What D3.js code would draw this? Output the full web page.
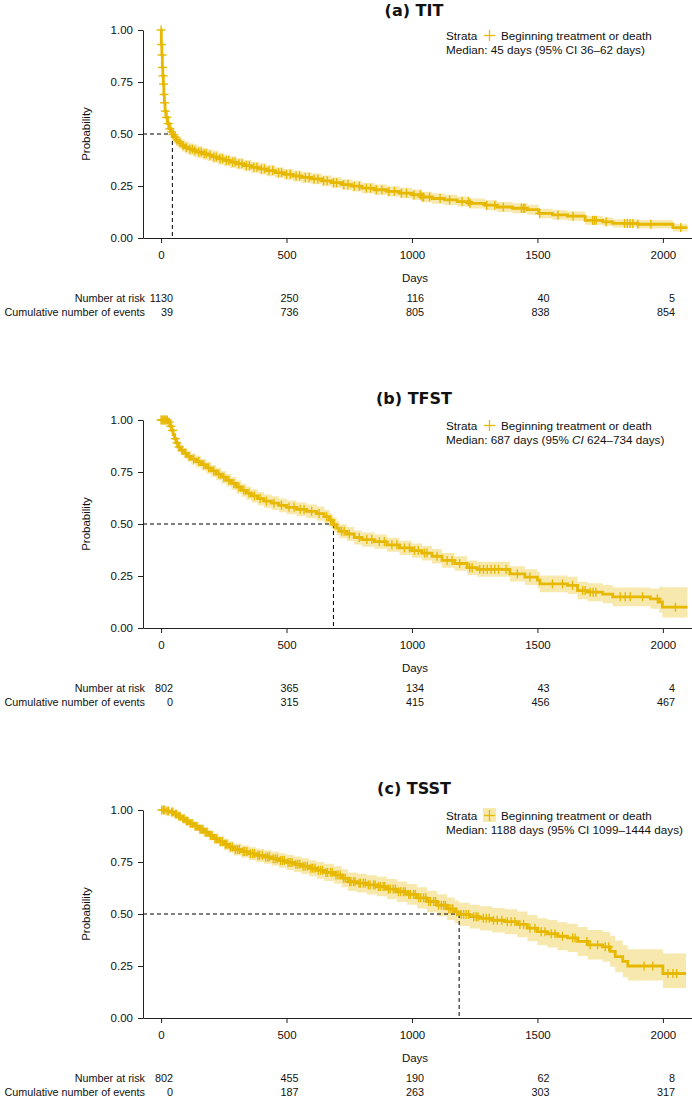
<!DOCTYPE html>
<html><head><meta charset="utf-8">
<script src="https://cdn.jsdelivr.net/npm/d3@7"></script>
<style>body{margin:0;background:#fff}svg{display:block}</style>
</head><body>
<svg id="chart" width="692" height="1096"></svg>
<script>
// ---------- data ----------
const panelTitles = ["(a) TIT", "(b) TFST", "(c) TSST"];
const strataLabel = "Beginning treatment or death";
const medianDays = [45, 687, 1188];
const medianCILow = [36, 624, 1099];
const medianCIHigh = [62, 734, 1444];
const italicCI = [false, true, false];
const xTicks = [0, 500, 1000, 1500, 2000];
const yTicks = [0, 0.25, 0.5, 0.75, 1];
const riskTimes = [0, 500, 1000, 1500, 2000];
const riskRowLabels = ["Number at risk", "Cumulative number of events"];
const lastFollowUp = [2098, 2098, 2092];

const aTimes = [0,1,3,5,7,9,11,13,16,20,26,33,40,45,52,60,70,82,95,110,128,145,165,185,205,228,250,275,300,330,360,390,420,455,490,525,560,600,640,680,720,760,800,850,900,950,1000,1040,1080,1130,1180,1230,1290,1340,1400,1460,1505,1560,1620,1690,1760,1800,1900,2040];
const aSurv = [1.00,0.93,0.88,0.82,0.78,0.74,0.69,0.65,0.61,0.58,0.55,0.525,0.51,0.497,0.485,0.47,0.458,0.445,0.435,0.427,0.42,0.413,0.405,0.398,0.39,0.381,0.373,0.365,0.357,0.348,0.34,0.332,0.324,0.314,0.306,0.298,0.291,0.284,0.275,0.266,0.257,0.249,0.24,0.232,0.224,0.216,0.208,0.197,0.19,0.183,0.175,0.166,0.158,0.149,0.143,0.136,0.118,0.111,0.105,0.085,0.078,0.07,0.066,0.05];
const aLower = [1.00,0.915,0.861,0.798,0.756,0.714,0.662,0.621,0.58,0.55,0.52,0.495,0.48,0.467,0.455,0.44,0.429,0.416,0.406,0.398,0.391,0.384,0.376,0.369,0.361,0.352,0.345,0.337,0.33,0.321,0.313,0.305,0.297,0.288,0.28,0.272,0.265,0.258,0.249,0.24,0.231,0.223,0.215,0.207,0.199,0.191,0.183,0.172,0.165,0.158,0.151,0.142,0.134,0.125,0.119,0.112,0.095,0.088,0.083,0.064,0.058,0.05,0.046,0.031];
const aUpper = [1.00,0.945,0.899,0.842,0.804,0.766,0.718,0.679,0.64,0.61,0.58,0.555,0.54,0.527,0.515,0.5,0.487,0.474,0.464,0.456,0.449,0.442,0.434,0.427,0.419,0.41,0.401,0.393,0.384,0.375,0.367,0.359,0.351,0.34,0.332,0.324,0.317,0.31,0.301,0.292,0.283,0.275,0.265,0.257,0.249,0.241,0.233,0.222,0.215,0.208,0.199,0.19,0.182,0.173,0.167,0.16,0.141,0.134,0.127,0.106,0.098,0.09,0.086,0.069];
const aCensor = [0,2,4,6,8,10,12,14,17,22,28,35,42,48,56,64,75,88,100,115,125,135,150,160,172,180,195,210,220,235,245,260,270,285,295,310,322,340,352,370,382,400,412,430,445,468,480,500,515,538,552,575,590,610,625,648,662,688,700,728,745,770,790,818,835,858,880,908,930,958,978,1008,1033,1040,1046,1070,1112,1150,1200,1225,1231,1298,1330,1364,1436,1444,1450,1509,1582,1642,1720,1727,1734,1774,1847,1858,1869,1880,1900,1952,2071];
const aAtRisk = [1130, 250, 116, 40, 5];
const aEvents = [39, 736, 805, 838, 854];

const bTimes = [0,30,36,42,48,54,60,68,78,90,105,120,140,160,180,200,220,240,260,280,300,320,340,360,385,410,440,470,500,540,580,620,650,670,680,687,700,710,740,770,800,850,900,950,1000,1040,1080,1120,1170,1220,1260,1390,1450,1500,1510,1620,1660,1700,1760,1800,1950,1985,1998];
const bSurv = [1.0,0.99,0.97,0.95,0.93,0.91,0.89,0.87,0.855,0.84,0.825,0.812,0.8,0.785,0.77,0.755,0.74,0.725,0.71,0.695,0.678,0.662,0.648,0.635,0.622,0.61,0.6,0.59,0.58,0.57,0.561,0.55,0.535,0.52,0.51,0.497,0.48,0.465,0.452,0.435,0.425,0.415,0.4,0.385,0.372,0.36,0.345,0.325,0.31,0.29,0.282,0.26,0.245,0.23,0.212,0.205,0.18,0.172,0.163,0.15,0.14,0.125,0.10];
const bLower = [1.0,0.983,0.958,0.935,0.912,0.89,0.868,0.847,0.831,0.815,0.799,0.785,0.772,0.757,0.741,0.726,0.71,0.695,0.68,0.664,0.647,0.631,0.616,0.603,0.59,0.578,0.567,0.557,0.547,0.537,0.528,0.516,0.501,0.486,0.476,0.463,0.446,0.431,0.418,0.401,0.391,0.381,0.366,0.351,0.338,0.325,0.31,0.29,0.275,0.255,0.246,0.223,0.207,0.191,0.172,0.164,0.138,0.129,0.119,0.105,0.093,0.075,0.051];
const bUpper = [1.0,0.997,0.982,0.965,0.948,0.93,0.912,0.893,0.879,0.865,0.851,0.839,0.828,0.813,0.799,0.784,0.77,0.755,0.74,0.726,0.709,0.693,0.68,0.667,0.654,0.642,0.633,0.623,0.613,0.603,0.594,0.584,0.569,0.554,0.544,0.531,0.514,0.499,0.486,0.469,0.459,0.449,0.434,0.419,0.406,0.395,0.38,0.36,0.345,0.325,0.318,0.297,0.283,0.269,0.252,0.246,0.222,0.215,0.207,0.195,0.19,0.2,0.196];
const bCensor = [0,4,8,12,16,20,25,32,39,46,57,64,72,83,98,112,130,150,170,190,210,230,250,270,290,310,330,350,372,395,420,450,480,510,530,555,570,600,630,660,676,690,720,730,750,790,820,840,870,890,920,940,970,990,1010,1025,1050,1060,1100,1140,1160,1190,1230,1240,1270,1285,1300,1315,1330,1345,1375,1420,1470,1560,1600,1640,1680,1690,1710,1722,1733,1830,1850,1870,1919,1978,2050];
const bAtRisk = [802, 365, 134, 43, 4];
const bEvents = [0, 315, 415, 456, 467];

const cTimes = [0,20,35,50,65,80,95,110,130,150,170,190,210,230,250,270,290,320,350,380,410,440,470,500,530,560,590,620,650,690,720,745,780,820,860,900,940,980,1020,1060,1100,1140,1170,1188,1230,1270,1320,1370,1420,1460,1500,1540,1580,1620,1660,1700,1760,1790,1810,1840,1860,2000];
const cSurv = [1.0,0.995,0.99,0.98,0.97,0.958,0.947,0.935,0.922,0.908,0.893,0.878,0.862,0.848,0.835,0.822,0.81,0.8,0.79,0.782,0.774,0.766,0.757,0.748,0.739,0.73,0.72,0.71,0.7,0.688,0.672,0.655,0.648,0.64,0.632,0.62,0.607,0.594,0.578,0.56,0.542,0.525,0.51,0.498,0.487,0.479,0.47,0.463,0.45,0.432,0.415,0.405,0.393,0.385,0.368,0.352,0.342,0.32,0.295,0.272,0.25,0.214];
const cLower = [1.0,0.99,0.983,0.97,0.958,0.944,0.931,0.917,0.902,0.887,0.87,0.854,0.837,0.822,0.808,0.794,0.781,0.77,0.759,0.75,0.741,0.732,0.722,0.712,0.702,0.692,0.681,0.67,0.659,0.646,0.629,0.611,0.603,0.594,0.585,0.572,0.558,0.544,0.527,0.508,0.489,0.471,0.455,0.442,0.43,0.421,0.411,0.403,0.388,0.369,0.35,0.339,0.326,0.317,0.298,0.281,0.27,0.246,0.22,0.196,0.18,0.144];
const cUpper = [1.0,1.0,0.997,0.99,0.982,0.972,0.963,0.953,0.942,0.929,0.916,0.902,0.887,0.874,0.862,0.85,0.839,0.83,0.821,0.814,0.807,0.8,0.792,0.784,0.776,0.768,0.759,0.75,0.741,0.73,0.715,0.699,0.693,0.686,0.679,0.668,0.656,0.644,0.629,0.612,0.595,0.579,0.565,0.554,0.544,0.537,0.529,0.523,0.512,0.495,0.48,0.471,0.46,0.453,0.438,0.423,0.415,0.395,0.372,0.35,0.33,0.31];
const cCensor = [3,9,15,24,30,42,47,57,62,71,76,88,92,101,106,117,124,136,143,155,160,167,176,183,197,203,215,222,236,244,256,262,276,284,296,305,312,327,334,342,356,365,372,386,393,404,417,425,432,447,455,463,476,484,491,506,514,522,537,545,553,566,574,583,597,604,613,627,636,644,657,664,676,683,697,705,714,727,734,752,757,767,773,789,795,806,814,826,833,847,853,867,874,885,892,906,913,925,934,946,955,966,973,987,994,1006,1013,1027,1035,1046,1055,1067,1074,1086,1094,1106,1117,1126,1133,1147,1155,1163,1178,1196,1206,1216,1226,1246,1256,1263,1284,1296,1308,1325,1340,1358,1380,1395,1410,1430,1445,1470,1490,1515,1530,1555,1570,1600,1640,1650,1697,1710,1740,1770,1784,1925,1960,2020,2040,2055];
const cAtRisk = [802, 455, 190, 62, 8];
const cEvents = [0, 187, 263, 303, 317];

// ---------- style / layout ----------
const COLOR = "#E7B800";
const RIBBON = "#F7E8AE";
const FONT = "'Liberation Sans', Arial, sans-serif";
const panelOffsets = [0, 390, 780];
const titleBaseline = [16, 14, 14];
const plotTop = 30, plotBottom = 238;

const panels = [
  {times: aTimes, surv: aSurv, lo: aLower, hi: aUpper, cens: aCensor, risk: aAtRisk, ev: aEvents},
  {times: bTimes, surv: bSurv, lo: bLower, hi: bUpper, cens: bCensor, risk: bAtRisk, ev: bEvents},
  {times: cTimes, surv: cSurv, lo: cLower, hi: cUpper, cens: cCensor, risk: cAtRisk, ev: cEvents}
];

const svg = d3.select("#chart");
svg.append("rect").attr("width", 692).attr("height", 1096).attr("fill", "#fff");

const x = d3.scaleLinear().domain([-72, 2116]).range([143, 692]);
const y = d3.scaleLinear().domain([0, 1]).range([plotBottom, plotTop]);

panels.forEach((p, i) => {
  const g = svg.append("g").attr("transform", `translate(0,${panelOffsets[i]})`);
  const pts = p.times.map((t, k) => ({t, s: p.surv[k], lo: p.lo[k], hi: p.hi[k]}));
  const last = pts[pts.length - 1];
  pts.push({t: lastFollowUp[i], s: last.s, lo: last.lo, hi: last.hi});
  const survAt = t => {
    const idx = d3.bisectRight(p.times, t) - 1;
    return p.surv[Math.max(0, idx)];
  };

  // ribbon
  g.append("path").datum(pts)
    .attr("fill", RIBBON)
    .attr("d", d3.area().curve(d3.curveStepAfter)
      .x(d => x(d.t)).y0(d => y(d.lo)).y1(d => y(d.hi)));

  // median dashed lines
  const m = medianDays[i];
  g.append("line").attr("x1", x.range()[0]).attr("x2", x(m))
    .attr("y1", y(0.5)).attr("y2", y(0.5))
    .attr("stroke", "#000").attr("stroke-width", 1).attr("stroke-dasharray", "4,3");
  g.append("line").attr("x1", x(m)).attr("x2", x(m))
    .attr("y1", y(0.5)).attr("y2", y(0))
    .attr("stroke", "#000").attr("stroke-width", 1).attr("stroke-dasharray", "4,3");

  // KM curve
  g.append("path").datum(pts)
    .attr("fill", "none").attr("stroke", COLOR).attr("stroke-width", 2.8)
    .attr("d", d3.line().curve(d3.curveStepAfter).x(d => x(d.t)).y(d => y(d.s)));

  // censor marks
  const cg = g.append("g").attr("stroke", COLOR).attr("stroke-width", 1.4);
  p.cens.forEach(t => {
    const cx = x(t), cy = y(survAt(t));
    cg.append("line").attr("x1", cx - 4.5).attr("x2", cx + 4.5).attr("y1", cy).attr("y2", cy);
    cg.append("line").attr("x1", cx).attr("x2", cx).attr("y1", cy - 4.5).attr("y2", cy + 4.5);
  });

  // axes
  const yAxis = g.append("g").attr("transform", `translate(${x.range()[0]},0)`)
    .call(d3.axisLeft(y).tickValues(yTicks).tickFormat(d3.format(".2f")).tickSize(5).tickSizeOuter(0).tickPadding(5));
  const xAxis = g.append("g").attr("transform", `translate(0,${plotBottom})`)
    .call(d3.axisBottom(x).tickValues(xTicks).tickFormat(d3.format("d")).tickSize(5).tickSizeOuter(0).tickPadding(8));
  [yAxis, xAxis].forEach(a => {
    a.selectAll("path,line").attr("stroke", "#222").attr("stroke-width", 1);
    a.selectAll("text").attr("fill", "#111").style("font-family", FONT).style("font-size", "11.5px");
  });

  // axis titles
  g.append("text").attr("transform", `translate(90,${(plotTop + plotBottom) / 2}) rotate(-90)`)
    .attr("text-anchor", "middle").style("font-family", FONT).style("font-size", "11.5px").attr("fill", "#111")
    .text("Probability");
  g.append("text").attr("x", 415).attr("y", 282).attr("text-anchor", "middle")
    .style("font-family", FONT).style("font-size", "11.5px").attr("fill", "#111").text("Days");

  // title
  g.append("text").attr("x", 414).attr("y", titleBaseline[i]).attr("text-anchor", "middle")
    .style("font-family", "'DejaVu Sans', Verdana, sans-serif").style("font-weight", "bold").style("font-size", "16px")
    .attr("fill", "#111").text(panelTitles[i]);

  // legend
  const lg = g.append("g").style("font-family", FONT).style("font-size", "11.7px").attr("fill", "#111");
  lg.append("text").attr("x", 446).attr("y", 40).text("Strata");
  if (i === 2) {
    lg.append("rect").attr("x", 483).attr("y", 28).attr("width", 13).attr("height", 14).attr("fill", RIBBON);
  }
  lg.append("line").attr("x1", 484).attr("x2", 495).attr("y1", 35.5).attr("y2", 35.5).attr("stroke", COLOR).attr("stroke-width", 1.3);
  lg.append("line").attr("x1", 489.5).attr("x2", 489.5).attr("y1", 30).attr("y2", 41).attr("stroke", COLOR).attr("stroke-width", 1.3);
  lg.append("text").attr("x", 501).attr("y", 40).text(strataLabel);
  const mt = lg.append("text").attr("x", 446).attr("y", 54);
  mt.append("tspan").text(`Median: ${medianDays[i]} days (95% `);
  mt.append("tspan").style("font-style", italicCI[i] ? "italic" : "normal").text("CI");
  mt.append("tspan").text(` ${medianCILow[i]}\u2013${medianCIHigh[i]} days)`);

  // risk table
  const rg = g.append("g").style("font-family", FONT).style("font-size", "10.8px").attr("fill", "#111");
  [p.risk, p.ev].forEach((row, r) => {
    const yy = 302 + r * 13.5;
    rg.append("text").attr("x", 145).attr("y", yy).attr("text-anchor", "end").text(riskRowLabels[r]);
    row.forEach((v, k) => {
      rg.append("text").attr("x", x(riskTimes[k]) + 12).attr("y", yy).attr("text-anchor", "end").text(v);
    });
  });
});
</script>
</body></html>
